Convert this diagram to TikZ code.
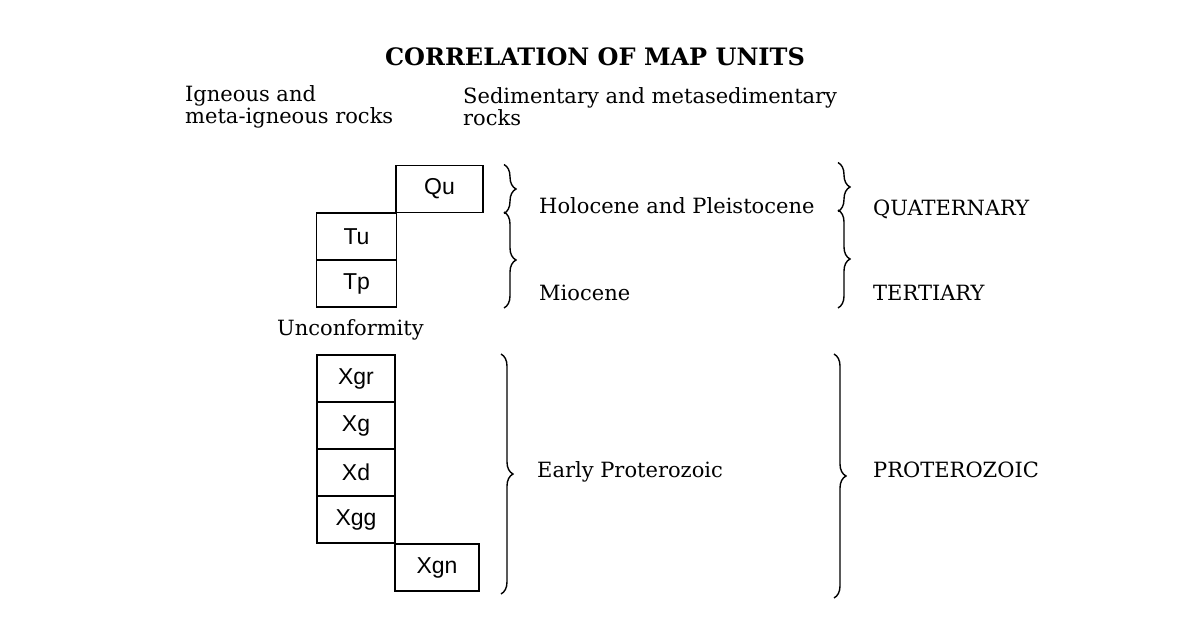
\documentclass[tikz,border=0pt]{standalone}
\usepackage{fontspec}
\setmainfont{DejaVu Serif}
\newfontfamily\unitfont{Liberation Sans}
\usetikzlibrary{decorations.pathreplacing}
\begin{document}
\begin{tikzpicture}[x=1pt,y=-1pt,
  unit/.style={draw,line width=1.9pt,minimum width=80pt,minimum height=47pt,
    inner sep=0pt,font=\unitfont\fontsize{23}{23}\selectfont},
  lbl/.style={anchor=base west,inner sep=0pt,font=\fontsize{21}{21.5}\selectfont,align=left},
  brc/.style={decorate,decoration={brace,amplitude=12pt,aspect=0.5},line width=1.4pt}]
\useasboundingbox (0,0) rectangle (1201,640);

% title
\node[inner sep=0pt,anchor=base,font=\bfseries\fontsize{24}{24}\selectfont] (title) at (595,65) {CORRELATION OF MAP UNITS};

% column headings
\node[lbl] (ign) at (185,123) {Igneous and\\meta-igneous rocks};
\node[lbl] (sed) at (463,125) {Sedimentary and metasedimentary\\rocks};

% map units
\node[unit,minimum width=87pt] (qu) at (439.5,189) {Qu};
\node[unit] (tu) at (356.5,236.5) {Tu};
\node[unit] (tp) at (356.5,283.5) {Tp};
\node[anchor=base west,inner sep=0pt,font=\fontsize{21}{21}\selectfont] (unc) at (277,335) {Unconformity};
\node[unit,minimum width=78pt] (xgr) at (356,378.5) {Xgr};
\node[unit,minimum width=78pt] (xg)  at (356,425.5) {Xg};
\node[unit,minimum width=78pt] (xd)  at (356,472.5) {Xd};
\node[unit,minimum width=78pt] (xgg) at (356,519.5) {Xgg};
\node[unit,minimum width=84pt] (xgn) at (437,567.5) {Xgn};

% brace columns
\coordinate (colA) at (504,0);
\coordinate (colB) at (838,0);
\coordinate (colC) at (501,0);
\coordinate (colD) at (834,0);

% epoch braces
\draw[brc] (qu.north -| colA) -- (qu.south -| colA);
\draw[brc] (tu.north -| colA) -- (tp.south -| colA);
\draw[brc] (xgr.north -| colC) -- ([yshift=-2pt]xgn.south -| colC);

% period braces
\draw[brc] ([yshift=2pt]qu.north -| colB) -- ([yshift=2pt]qu.south -| colB);
\draw[brc] ([yshift=2pt]tu.north -| colB) -- (tp.south -| colB);
\draw[brc] (xgr.north -| colD) -- ([yshift=-6pt]xgn.south -| colD);

% epoch names
\node[lbl] (hol) at (539,213) {Holocene and Pleistocene};
\node[lbl] (mio) at (539,300) {Miocene};
\node[lbl] (epr) at (537,477) {Early Proterozoic};

% period names
\node[lbl] (qua) at (873,215) {QUATERNARY};
\node[lbl] (ter) at (873,300) {TERTIARY};
\node[lbl] (pro) at (873,477) {PROTEROZOIC};
\end{tikzpicture}
\end{document}
